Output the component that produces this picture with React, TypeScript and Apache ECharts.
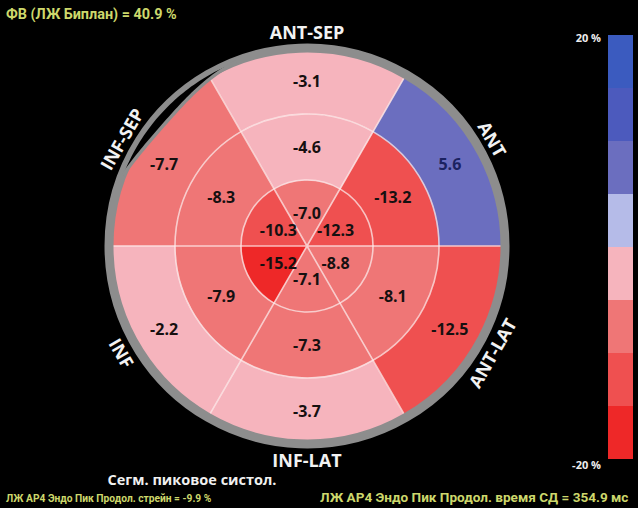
import React, { useEffect, useRef } from "react";
import * as echarts from "echarts";

// Walls, ordered counter-clockwise from the 0°–60° sector (upper right)
const walls = ["ANT", "ANT-SEP", "INF-SEP", "INF", "INF-LAT", "ANT-LAT"];
const basalStrain = [5.6, -3.1, -7.7, -2.2, -3.7, -12.5];
const midStrain = [-13.2, -4.6, -8.3, -7.9, -7.3, -8.1];
const apicalStrain = [-12.3, -7.0, -10.3, -15.2, -7.1, -8.8];
const scaleTicks = ["20 %", "-20 %"];
const scaleBands = [-20, -15, -10, -5, 0, 5, 10, 15, 20];
const scaleColors = ["#ee2828", "#ef5050", "#ef7676", "#f6b4bd", "#b5bbe8", "#6b6ebf", "#4c5abd", "#3b5bbf"];
const efText = "ФВ (ЛЖ Биплан) = 40.9 %";
const strainText = "ЛЖ AP4 Эндо Пик Продол. стрейн = -9.9 %";
const timeText = "ЛЖ AP4 Эндо Пик Продол. время СД = 354.9 мс";
const mapTitle = "Сегм. пиковое систол.";

const CX = 307;
const CY = 246;
const R = 198;

export default function App() {
  const ref = useRef<HTMLDivElement>(null);
  useEffect(() => {
    if (!ref.current) return;
    const chart = echarts.init(ref.current, null, { renderer: "svg" });

    const rings = [apicalStrain, midStrain, basalStrain];
    const data: number[][] = [];
    rings.forEach((arr, ring) => arr.forEach((v, k) => data.push([ring, k * 60, v])));

    const pieces = scaleColors.map((c, i) => ({ min: scaleBands[i], max: scaleBands[i + 1], color: c }));

    const sectorRender = (params: any, api: any) => {
      const ring = api.value(0);
      const a0 = api.value(1);
      const cx = params.coordSys.cx;
      const cy = params.coordSys.cy;
      const pIn = api.coord([ring, a0]);
      const pOut = api.coord([ring + 1, a0]);
      const r0 = Math.hypot(pIn[0] - cx, pIn[1] - cy);
      const r = Math.hypot(pOut[0] - cx, pOut[1] - cy);
      const col = api.visual("color");
      return {
        type: "sector",
        shape: { cx, cy, r0, r, startAngle: -((a0 + 60) * Math.PI) / 180, endAngle: -(a0 * Math.PI) / 180, clockwise: true },
        style: { fill: col, stroke: col, lineWidth: 0.6 },
      };
    };

    const labelRender = (params: any, api: any) => {
      const ring = api.value(0);
      const a0 = api.value(1);
      const v = api.value(2);
      const p = api.coord([ring + 0.5, a0 + 30]);
      return {
        type: "text",
        x: p[0],
        y: p[1],
        style: {
          text: v.toFixed(1),
          fill: v > 0 ? "#1b2260" : "#161010",
          font: "bold 16px 'Open Sans', sans-serif",
          align: "center",
          verticalAlign: "middle",
        },
      };
    };

    // wall labels around the ring
    const wallGraphics = walls.map((w, k) => {
      const th = 30 + 60 * k;
      const rad = (th * Math.PI) / 180;
      const rr = 214;
      let rot = th <= 180 ? th - 90 : th + 90;
      if (rot > 180) rot -= 360;
      return {
        type: "text",
        x: CX + rr * Math.cos(rad),
        y: CY - rr * Math.sin(rad),
        rotation: (rot * Math.PI) / 180,
        style: {
          text: w,
          fill: "#f2f2f2",
          font: "bold 18px 'Open Sans', sans-serif",
          align: "center",
          verticalAlign: "middle",
        },
      };
    });

    // black crescent inside the gray rim (INF-SEP side)
    const crescent: number[][] = [];
    const inner: number[][] = [];
    for (let t = 111; t <= 159; t += 1) {
      const rad = (t * Math.PI) / 180;
      crescent.push([CX + (R - 1) * Math.cos(rad), CY - (R - 1) * Math.sin(rad)]);
    }
    for (let t = 159; t >= 111; t -= 1) {
      const rad = (t * Math.PI) / 180;
      const u = (t - 111) / 48;
      const w = 9.5 * Math.sin(Math.PI * Math.pow(u, 1.25));
      const pt = [CX + (R - 1 - w) * Math.cos(rad), CY - (R - 1 - w) * Math.sin(rad)];
      crescent.push(pt);
      inner.push(pt);
    }

    const txt = (x: number, y: number, text: string, fill: string, font: string, align = "left", scaleX = 1) => ({
      type: "text",
      x,
      y,
      scaleX,
      style: { text, fill, font, align, verticalAlign: "middle" },
    });

    chart.setOption({
      animation: false,
      backgroundColor: "#000",
      polar: { center: [CX, CY], radius: R },
      angleAxis: {
        type: "value",
        min: 0,
        max: 360,
        interval: 60,
        startAngle: 0,
        clockwise: false,
        z: 5,
        axisLine: { show: true, lineStyle: { color: "#8d8d8d", width: 9 } },
        axisTick: { show: false },
        axisLabel: { show: false },
        splitLine: { show: true, lineStyle: { color: "rgba(255,236,236,0.75)", width: 1.6 } },
      },
      radiusAxis: {
        type: "value",
        min: 0,
        max: 3,
        interval: 1,
        z: 5,
        axisLine: { show: false },
        axisTick: { show: false },
        axisLabel: { show: false },
        splitLine: { show: true, lineStyle: { color: "rgba(255,236,236,0.75)", width: 1.6 } },
      },
      visualMap: {
        type: "piecewise",
        seriesIndex: 0,
        dimension: 2,
        pieces,
        orient: "vertical",
        left: 608,
        top: 35,
        padding: 0,
        itemWidth: 25,
        itemHeight: 53,
        itemGap: 0,
        itemSymbol: "rect",
        showLabel: false,
        selectedMode: false,
        hoverLink: false,
      },
      series: [
        { type: "custom", coordinateSystem: "polar", data, renderItem: sectorRender, z: 1, silent: true },
        { type: "custom", coordinateSystem: "polar", data, renderItem: labelRender, z: 10, silent: true },
      ],
      graphic: [
        { type: "polygon", shape: { points: crescent }, style: { fill: "#000" }, z: 20 },
        { type: "polyline", shape: { points: inner }, style: { stroke: "#8d8d8d", lineWidth: 3.5, fill: null }, z: 21 },
        ...wallGraphics.map((g) => ({ ...g, z: 22 })),
        txt(6, 14, efText, "#cdd86c", "bold 14px Roboto, sans-serif", "left", 1.03),
        txt(601, 37, scaleTicks[0], "#eeeeee", "bold 11px 'Open Sans', sans-serif", "right"),
        txt(601, 464, scaleTicks[1], "#eeeeee", "bold 11px 'Open Sans', sans-serif", "right"),
        txt(192, 479, mapTitle, "#f0f0f0", "bold 14.5px 'Open Sans', sans-serif", "center"),
        txt(6, 498, strainText, "#cdd86c", "bold 11px Roboto, sans-serif", "left", 0.93),
        txt(320, 498, timeText, "#cdd86c", "bold 12px Roboto, sans-serif", "left", 1.13),
      ],
    });
    return () => chart.dispose();
  }, []);
  return <div ref={ref} style={{ position: "fixed", left: 0, top: 0, width: 638, height: 508 }} />;
}
